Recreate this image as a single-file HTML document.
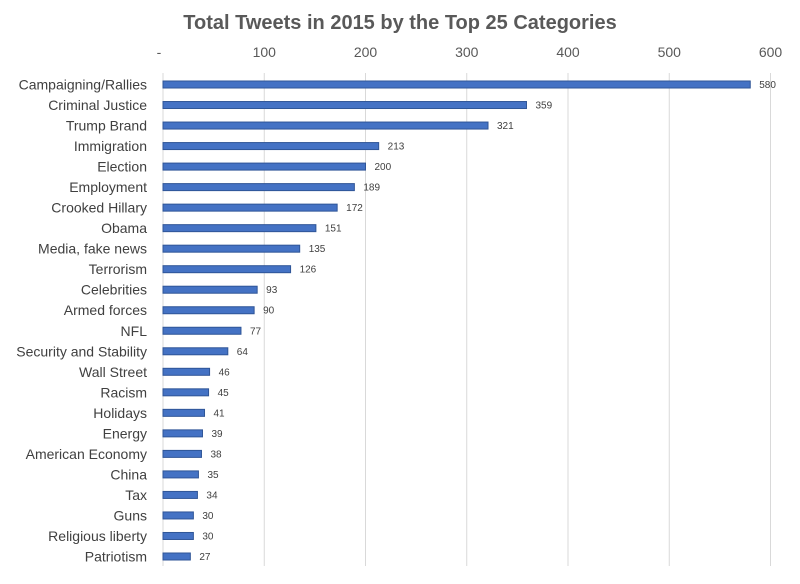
<!DOCTYPE html>
<html><head><meta charset="utf-8"><style>
body{margin:0;background:#fff;font-family:"Liberation Sans",sans-serif;}
</style></head><body>
<svg id="chart" width="800" height="579" xmlns="http://www.w3.org/2000/svg">
<text x="400" y="29" text-anchor="middle" font-size="20" font-weight="bold" fill="#595959">Total Tweets in 2015 by the Top 25 Categories</text>
<g id="grid"></g><g id="bars"></g><g id="labels"></g>
</svg>
<script>
const categories=["Campaigning/Rallies","Criminal Justice","Trump Brand","Immigration","Election","Employment","Crooked Hillary","Obama","Media, fake news","Terrorism","Celebrities","Armed forces","NFL","Security and Stability","Wall Street","Racism","Holidays","Energy","American Economy","China","Tax","Guns","Religious liberty","Patriotism"];
const values=[580,359,321,213,200,189,172,151,135,126,93,90,77,64,46,45,41,39,38,35,34,30,30,27];
const ticks=[0,100,200,300,400,500,600];
const tickLabels=["-","100","200","300","400","500","600"];
const NS="http://www.w3.org/2000/svg";
const x0=163,pxPer=1.0125,yTop=84.5,step=(556.5-84.5)/23;
const xs=v=>x0+v*pxPer, ys=i=>yTop+i*step;
function mk(t,a,p){const e=document.createElementNS(NS,t);for(const k in a)e.setAttribute(k,a[k]);p.appendChild(e);return e;}
const g=document.getElementById('grid'),b=document.getElementById('bars'),l=document.getElementById('labels');
ticks.forEach((t,i)=>{
 const ln=mk('line',{x1:xs(t),x2:xs(t),y1:73,y2:566,stroke:'#d9d9d9','stroke-width':1},g);
 
 
 const tx=mk('text',{x:xs(t)-(i==0?4:0),y:57,'text-anchor':'middle','font-size':14,fill:'#595959'},l);
 tx.textContent=tickLabels[i];
 
 
});
categories.forEach((c,i)=>{
 const y=ys(i);
 const r=mk('rect',{x:x0,y:y-3.5,width:xs(values[i])-x0,height:7,fill:'#4472c4',stroke:'#2f5597','stroke-width':1},b);
 
 
 const ct=mk('text',{x:147,y:y+5,'text-anchor':'end','font-size':14,fill:'#404040'},l);
 ct.textContent=c;
 
 
 const vt=mk('text',{x:xs(values[i])+9,y:y+3.5,'font-size':10,fill:'#404040'},l);
 vt.textContent=values[i];
 
 
});
</script>
</body></html>
